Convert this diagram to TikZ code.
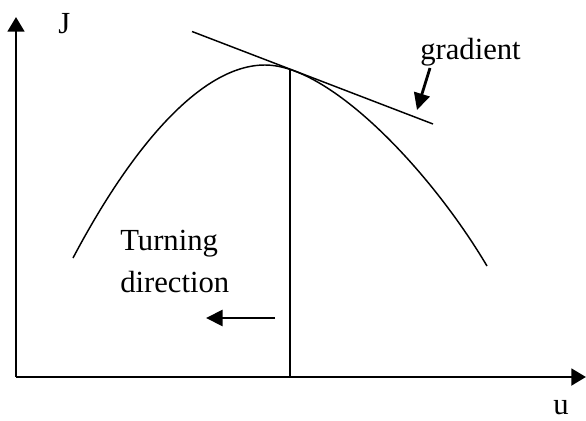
\documentclass[tikz,border=0pt]{standalone}
\usepackage{fontspec}
\setmainfont{Liberation Serif}
\usetikzlibrary{arrows.meta}

\tikzset{
  axis/.style={line width=2.2pt,-{Triangle[length=11pt,width=12.5pt]}},
  thinline/.style={line width=1.1pt},
  bigarrow/.style={line width=2.1pt,-{Triangle[length=12.5pt,width=12pt]}},
  lbl/.style={inner sep=0pt,anchor=base west,font=\fontsize{23}{28}\selectfont}
}

\begin{document}
\begin{tikzpicture}[x=0.75pt,y=-0.75pt]
\useasboundingbox (0,0) rectangle (586,421);
% axes
\coordinate (o) at (16,377);
\coordinate (ytip) at (16,17);
\coordinate (xtip) at (586,377);
\draw[axis] (o) -- (ytip);
\draw[axis] (o) -- (xtip);
\node[lbl] (jlab) at (58,33) {J};
\node[lbl] (ulab) at (553,414) {u};
% cost curve
\coordinate (cL) at (73,258);
\coordinate (peak) at (265,65);
\coordinate (cR) at (487,266);
\draw[thinline] (cL) .. controls (130,150) and (200,65) .. (peak)
  .. controls (330,65) and (430,170) .. (cR);
% tangent and operating point
\coordinate (tA) at (192,31.5);
\coordinate (tB) at (433,124);
\coordinate (top) at (290,69);
\coordinate (foot) at (290,377);
\draw[thinline] (tA) -- (tB);
\draw[thinline] (top) -- (foot);
% labels
\node[lbl] (grad) at (420,60) {gradient};
\coordinate (gfrom) at (430,68);
\coordinate (gto) at (417,110);
\draw[bigarrow] (gfrom) -- (gto);
\node[lbl] (turn) at (120,250) {Turning};
\node[lbl] (dir) at (120,292) {direction};
\coordinate (dfrom) at (275,318);
\coordinate (dto) at (206,318);
\draw[bigarrow] (dfrom) -- (dto);
\end{tikzpicture}
\end{document}
